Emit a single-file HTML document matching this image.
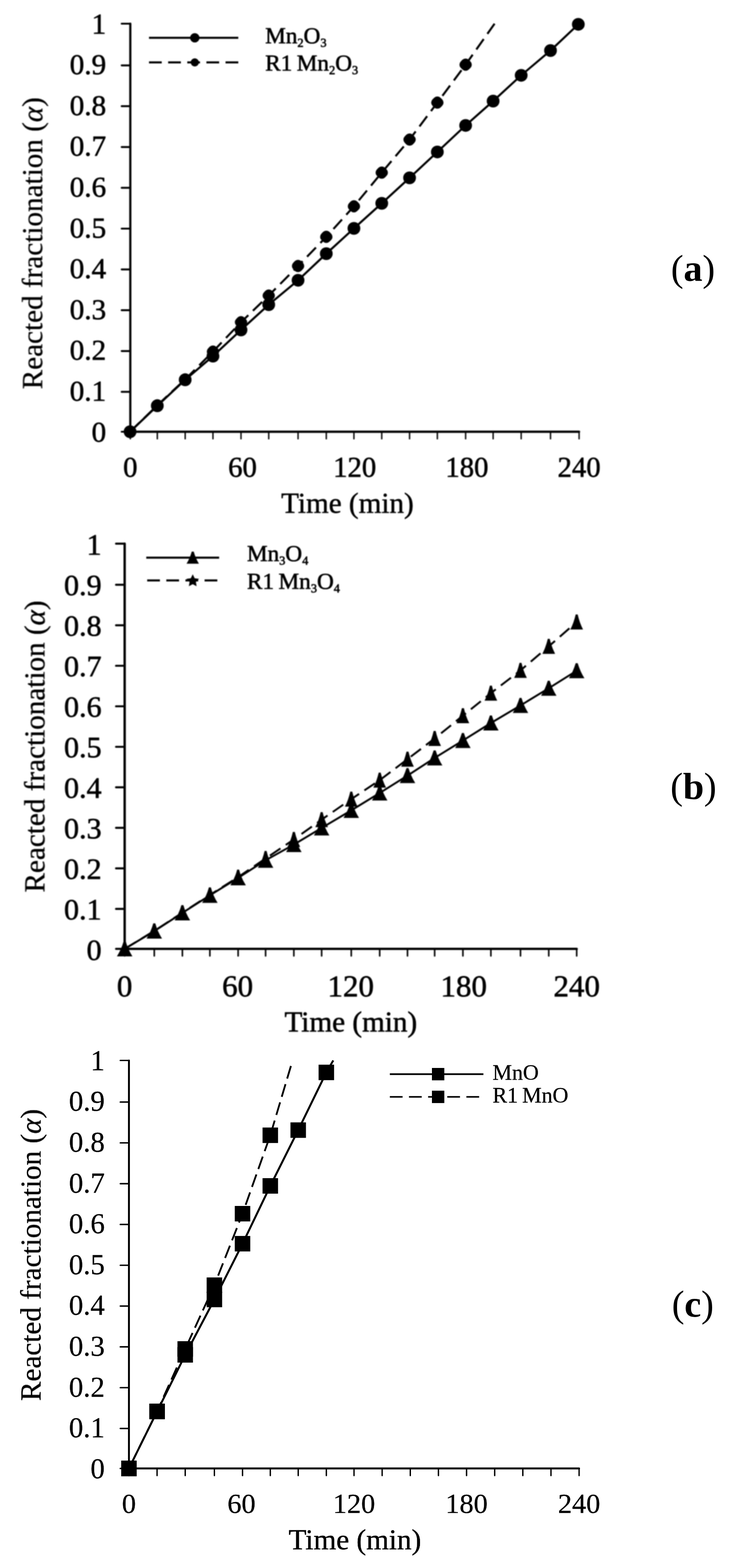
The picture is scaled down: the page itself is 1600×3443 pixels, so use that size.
<!DOCTYPE html>
<html lang="en">
<head>
<meta charset="utf-8">
<title>Reacted fractionation versus time</title>
<style>
html, body { margin: 0; padding: 0; background: #fff; }
body { width: 1600px; height: 3443px; }
figure { margin: 0; width: 1600px; height: 3443px; position: relative; background: #fff; }
svg { display: block; font-family: 'Liberation Serif', 'DejaVu Serif', serif; fill: #000; }
text { stroke: #000; stroke-width: var(--ts, 1px); stroke-linejoin: round; }
.axis, .ln { fill: none; stroke: #000; }
.axis { stroke-linecap: round; stroke-linejoin: round; }
.ln { stroke-linecap: butt; stroke-linejoin: round; }
.mk { stroke: none; fill: #000; }
</style>
</head>
<body>
<figure>
<svg width="1600" height="3443" viewBox="0 0 1600 3443" role="img" aria-label="Reacted fractionation versus time for manganese oxides">
<rect width="1600" height="3443" fill="#fff"/>
<defs>
<filter id="blur-a" filterUnits="userSpaceOnUse" x="0" y="0" width="1400" height="1166" color-interpolation-filters="sRGB"><feGaussianBlur stdDeviation="0.9"/></filter>
<filter id="blur-b" filterUnits="userSpaceOnUse" x="0" y="1133.8" width="1400" height="1170.7" color-interpolation-filters="sRGB"><feGaussianBlur stdDeviation="1"/></filter>
<filter id="blur-c" filterUnits="userSpaceOnUse" x="0" y="2268.5" width="1400" height="1173.2" color-interpolation-filters="sRGB"><feGaussianBlur stdDeviation="0.7"/></filter>
</defs>
<g class="chart" id="chart-a" style="--ts:1.1px" filter="url(#blur-a)">
<path class="axis" d="M286 52V948H1271" stroke-width="4.8"/>
<path class="axis" d="M267 948H286M267 860.4H286M267 770.8H286M267 681.2H286M267 591.6H286M267 502H286M267 412.4H286M267 322.8H286M267 233.2H286M267 143.6H286M267 52H286" stroke-width="4.2"/>
<path class="axis" d="M286 948V963.5M345.26 948V963.5M406.43 948V963.5M467.39 948V963.5M528.95 948V963.5M589.81 948V963.5M654.17 948V963.5M716.14 948V963.5M776.8 948V963.5M837.86 948V963.5M898.92 948V963.5M959.89 948V963.5M1021.95 948V963.5M1082.31 948V963.5M1143.88 948V963.5M1208.24 948V963.5M1271 948V963.5" stroke-width="3"/>
<g class="yt" font-size="64" text-anchor="end">
<text x="233" y="969.63">0</text>
<text x="233" y="880.03">0.1</text>
<text x="233" y="790.43">0.2</text>
<text x="233" y="700.83">0.3</text>
<text x="233" y="611.23">0.4</text>
<text x="233" y="521.63">0.5</text>
<text x="233" y="432.03">0.6</text>
<text x="233" y="342.43">0.7</text>
<text x="233" y="252.83">0.8</text>
<text x="233" y="163.23">0.9</text>
<text x="233" y="73.63">1</text>
</g>
<g class="xt" font-size="63" text-anchor="middle">
<text x="286" y="1047">0</text>
<text x="532.25" y="1047">60</text>
<text x="778.5" y="1047">120</text>
<text x="1024.75" y="1047">180</text>
<text x="1271" y="1047">240</text>
</g>
<text class="xtitle" style="stroke-width:0.9px" x="762.5" y="1126" font-size="64" text-anchor="middle">Time (min)</text>
<text class="ytitle" style="stroke-width:0.5px" transform="translate(92.5 534) rotate(-90) scale(1 1)" font-size="64" text-anchor="middle">Reacted fractionation (<tspan font-style="italic">α</tspan>)</text>
<polyline class="ln dash" stroke-width="4.5" stroke-dasharray="28 14" stroke-dashoffset="41.4" points="285.5,948 345.26,890 406.43,833 467.39,772 528.95,707.5 589.81,649 654.17,584 716.14,520 776.8,453 837.86,379 898.92,306.5 959.89,225.3 1021.95,142 1085.5,52"/>
<polyline class="ln" stroke-width="4.5" points="285.5,948 345.26,891 406.43,834 467.39,782 528.95,724.5 589.81,669 654.17,615.4 716.14,557 776.8,501.5 837.86,446.5 898.92,390.5 959.89,333.7 1021.95,275.4 1082.31,222 1143.88,165.4 1208.24,111 1269.3,53.4"/>
<g class="mk">
<circle cx="285.5" cy="948" r="14"/>
<circle cx="345.26" cy="891" r="14"/>
<circle cx="406.43" cy="834" r="14"/>
<circle cx="467.39" cy="782" r="14"/>
<circle cx="528.95" cy="724.5" r="14"/>
<circle cx="589.81" cy="669" r="14"/>
<circle cx="654.17" cy="615.4" r="14"/>
<circle cx="716.14" cy="557" r="14"/>
<circle cx="776.8" cy="501.5" r="14"/>
<circle cx="837.86" cy="446.5" r="14"/>
<circle cx="898.92" cy="390.5" r="14"/>
<circle cx="959.89" cy="333.7" r="14"/>
<circle cx="1021.95" cy="275.4" r="14"/>
<circle cx="1082.31" cy="222" r="14"/>
<circle cx="1143.88" cy="165.4" r="14"/>
<circle cx="1208.24" cy="111" r="14"/>
<circle cx="1269.3" cy="53.4" r="14"/>
<rect x="272.98" y="935.48" width="25.03" height="25.03" rx="10" transform="rotate(45 285.5 948)"/>
<rect x="332.75" y="877.48" width="25.03" height="25.03" rx="10" transform="rotate(45 345.26 890)"/>
<rect x="393.91" y="820.48" width="25.03" height="25.03" rx="10" transform="rotate(45 406.43 833)"/>
<rect x="454.87" y="759.48" width="25.03" height="25.03" rx="10" transform="rotate(45 467.39 772)"/>
<rect x="516.43" y="694.98" width="25.03" height="25.03" rx="10" transform="rotate(45 528.95 707.5)"/>
<rect x="577.3" y="636.48" width="25.03" height="25.03" rx="10" transform="rotate(45 589.81 649)"/>
<rect x="641.66" y="571.48" width="25.03" height="25.03" rx="10" transform="rotate(45 654.17 584)"/>
<rect x="703.62" y="507.48" width="25.03" height="25.03" rx="10" transform="rotate(45 716.14 520)"/>
<rect x="764.28" y="440.48" width="25.03" height="25.03" rx="10" transform="rotate(45 776.8 453)"/>
<rect x="825.35" y="366.48" width="25.03" height="25.03" rx="10" transform="rotate(45 837.86 379)"/>
<rect x="886.41" y="293.98" width="25.03" height="25.03" rx="10" transform="rotate(45 898.92 306.5)"/>
<rect x="947.37" y="212.78" width="25.03" height="25.03" rx="10" transform="rotate(45 959.89 225.3)"/>
<rect x="1009.43" y="129.48" width="25.03" height="25.03" rx="10" transform="rotate(45 1021.95 142)"/>
</g>
<g class="legend">
<path class="ln" stroke-width="4.5" d="M327 83H523"/>
<path class="ln" stroke-width="4.5" stroke-dasharray="28 14" d="M327 137H523"/>
<g class="mk"><circle cx="427.5" cy="83" r="10.36"/><rect x="418.49" y="127.99" width="18.02" height="18.02" rx="10" transform="rotate(45 427.5 137)"/></g>
<text x="582" y="95" font-size="51" word-spacing="-3">Mn<tspan font-size="27" dy="8">2</tspan><tspan dy="-8">O</tspan><tspan font-size="27" dy="8">3</tspan></text>
<text x="582" y="155" font-size="51" word-spacing="-3">R1 Mn<tspan font-size="27" dy="8">2</tspan><tspan dy="-8">O</tspan><tspan font-size="27" dy="8">3</tspan></text>
</g>
</g>
<text class="panel" style="stroke:none" x="1521" y="617" font-size="83" text-anchor="middle">(<tspan font-weight="bold">a</tspan>)</text>
<g class="chart" id="chart-b" style="--ts:1.1px" filter="url(#blur-b)">
<path class="axis" d="M273.6 1193.8V2083.5H1265.7" stroke-width="5.2"/>
<path class="axis" d="M254.6 2083.5H273.6M254.6 1995.73H273.6M254.6 1906.76H273.6M254.6 1817.79H273.6M254.6 1728.82H273.6M254.6 1639.85H273.6M254.6 1550.88H273.6M254.6 1461.91H273.6M254.6 1372.94H273.6M254.6 1283.97H273.6M254.6 1193.8H273.6" stroke-width="4.4"/>
<path class="axis" d="M273.6 2083.5V2099M338.61 2083.5V2099M400.31 2083.5V2099M460.62 2083.5V2099M522.62 2083.5V2099M582.93 2083.5V2099M644.94 2083.5V2099M705.94 2083.5V2099M770.95 2083.5V2099M833.36 2083.5V2099M894.36 2083.5V2099M953.97 2083.5V2099M1015.98 2083.5V2099M1077.38 2083.5V2099M1142.39 2083.5V2099M1204.39 2083.5V2099M1265.7 2083.5V2099" stroke-width="3.4"/>
<g class="yt" font-size="66" text-anchor="end">
<text x="223" y="2107.81">0</text>
<text x="223" y="2018.84">0.1</text>
<text x="223" y="1929.87">0.2</text>
<text x="223" y="1840.9">0.3</text>
<text x="223" y="1751.93">0.4</text>
<text x="223" y="1662.96">0.5</text>
<text x="223" y="1573.99">0.6</text>
<text x="223" y="1485.02">0.7</text>
<text x="223" y="1396.05">0.8</text>
<text x="223" y="1307.08">0.9</text>
<text x="223" y="1218.11">1</text>
</g>
<g class="xt" font-size="68" text-anchor="middle">
<text x="273.6" y="2188">0</text>
<text x="521.62" y="2188">60</text>
<text x="769.65" y="2188">120</text>
<text x="1017.68" y="2188">180</text>
<text x="1265.7" y="2188">240</text>
</g>
<text class="xtitle" style="stroke-width:1.1px" x="770" y="2264.5" font-size="64" text-anchor="middle">Time (min)</text>
<text class="ytitle" style="stroke-width:0.7px" transform="translate(97.5 1639) rotate(-90) scale(1 1)" font-size="64" text-anchor="middle">Reacted fractionation (<tspan font-style="italic">α</tspan>)</text>
<polyline class="ln dash" stroke-width="4.2" stroke-dasharray="28 14" stroke-dashoffset="41.03" points="273.6,2083.5 338.61,2044 400.31,2004 460.62,1965 522.62,1926 582.93,1885 644.94,1843.3 705.94,1799.8 770.95,1754.7 833.36,1713.1 894.36,1667 953.97,1621.5 1015.98,1571.5 1077.38,1522 1142.39,1472 1204.39,1419.3 1265.7,1365.8"/>
<polyline class="ln" stroke-width="4.2" points="273.6,2083.5 338.61,2044.6 400.31,2004.5 460.62,1966 522.62,1927.6 582.93,1889 644.94,1854.5 705.94,1818 770.95,1779.4 833.36,1741.2 894.36,1703 953.97,1664.3 1015.98,1626 1077.38,1587.6 1142.39,1549 1204.39,1511.2 1265.7,1472.8"/>
<g class="mk">
<path d="M271.4 2067H275.8Q281.42 2085.48 290.6 2100H256.6Q265.78 2085.48 271.4 2067Z"/>
<path d="M336.41 2028.1H340.81Q346.43 2046.58 355.61 2061.1H321.61Q330.79 2046.58 336.41 2028.1Z"/>
<path d="M398.11 1988H402.51Q408.13 2006.48 417.31 2021H383.31Q392.49 2006.48 398.11 1988Z"/>
<path d="M458.42 1949.5H462.82Q468.44 1967.98 477.62 1982.5H443.62Q452.8 1967.98 458.42 1949.5Z"/>
<path d="M520.42 1911.1H524.83Q530.45 1929.58 539.62 1944.1H505.62Q514.8 1929.58 520.42 1911.1Z"/>
<path d="M580.73 1872.5H585.13Q590.75 1890.98 599.93 1905.5H565.93Q575.11 1890.98 580.73 1872.5Z"/>
<path d="M642.74 1838H647.14Q652.76 1856.48 661.94 1871H627.94Q637.12 1856.48 642.74 1838Z"/>
<path d="M703.74 1801.5H708.14Q713.76 1819.98 722.94 1834.5H688.94Q698.12 1819.98 703.74 1801.5Z"/>
<path d="M768.75 1762.9H773.15Q778.77 1781.38 787.95 1795.9H753.95Q763.13 1781.38 768.75 1762.9Z"/>
<path d="M831.16 1724.7H835.56Q841.18 1743.18 850.36 1757.7H816.36Q825.54 1743.18 831.16 1724.7Z"/>
<path d="M892.16 1686.5H896.56Q902.18 1704.98 911.36 1719.5H877.36Q886.54 1704.98 892.16 1686.5Z"/>
<path d="M951.77 1647.8H956.17Q961.79 1666.28 970.97 1680.8H936.97Q946.15 1666.28 951.77 1647.8Z"/>
<path d="M1013.77 1609.5H1018.18Q1023.8 1627.98 1032.97 1642.5H998.98Q1008.15 1627.98 1013.77 1609.5Z"/>
<path d="M1075.18 1571.1H1079.58Q1085.2 1589.58 1094.38 1604.1H1060.38Q1069.56 1589.58 1075.18 1571.1Z"/>
<path d="M1140.19 1532.5H1144.59Q1150.21 1550.98 1159.39 1565.5H1125.39Q1134.57 1550.98 1140.19 1532.5Z"/>
<path d="M1202.19 1494.7H1206.59Q1212.21 1513.18 1221.39 1527.7H1187.39Q1196.57 1513.18 1202.19 1494.7Z"/>
<path d="M1263.5 1456.3H1267.9Q1273.52 1474.78 1282.7 1489.3H1248.7Q1257.88 1474.78 1263.5 1456.3Z"/>
<path d="M271.4 2067H275.8Q280.01 2085.48 287.54 2100H259.66Q267.19 2085.48 271.4 2067Z"/>
<path d="M336.41 2027.5H340.81Q345.02 2045.98 352.55 2060.5H324.67Q332.19 2045.98 336.41 2027.5Z"/>
<path d="M398.11 1987.5H402.51Q406.72 2005.98 414.25 2020.5H386.37Q393.9 2005.98 398.11 1987.5Z"/>
<path d="M458.42 1948.5H462.82Q467.03 1966.98 474.56 1981.5H446.68Q454.21 1966.98 458.42 1948.5Z"/>
<path d="M520.42 1909.5H524.83Q529.04 1927.98 536.57 1942.5H508.69Q516.21 1927.98 520.42 1909.5Z"/>
<path d="M580.73 1868.5H585.13Q589.34 1886.98 596.87 1901.5H568.99Q576.52 1886.98 580.73 1868.5Z"/>
<path d="M642.74 1826.8H647.14Q651.35 1845.28 658.88 1859.8H631Q638.53 1845.28 642.74 1826.8Z"/>
<path d="M703.74 1783.3H708.14Q712.36 1801.78 719.88 1816.3H692Q699.53 1801.78 703.74 1783.3Z"/>
<path d="M768.75 1738.2H773.15Q777.36 1756.68 784.89 1771.2H757.01Q764.54 1756.68 768.75 1738.2Z"/>
<path d="M831.16 1696.6H835.56Q839.77 1715.08 847.3 1729.6H819.42Q826.94 1715.08 831.16 1696.6Z"/>
<path d="M892.16 1650.5H896.56Q900.77 1668.98 908.3 1683.5H880.42Q887.95 1668.98 892.16 1650.5Z"/>
<path d="M951.77 1605H956.17Q960.38 1623.48 967.91 1638H940.03Q947.56 1623.48 951.77 1605Z"/>
<path d="M1013.77 1555H1018.18Q1022.39 1573.48 1029.91 1588H1002.03Q1009.56 1573.48 1013.77 1555Z"/>
<path d="M1075.18 1505.5H1079.58Q1083.79 1523.98 1091.32 1538.5H1063.44Q1070.97 1523.98 1075.18 1505.5Z"/>
<path d="M1140.19 1455.5H1144.59Q1148.8 1473.98 1156.33 1488.5H1128.45Q1135.98 1473.98 1140.19 1455.5Z"/>
<path d="M1202.19 1402.8H1206.59Q1210.81 1421.28 1218.33 1435.8H1190.45Q1197.98 1421.28 1202.19 1402.8Z"/>
<path d="M1263.5 1349.3H1267.9Q1272.11 1367.78 1279.64 1382.3H1251.76Q1259.29 1367.78 1263.5 1349.3Z"/>
</g>
<g class="legend">
<path class="ln" stroke-width="4.5" d="M321 1224.5H481"/>
<path class="ln" stroke-width="4.5" stroke-dasharray="28 14" d="M323 1274.5H481"/>
<g class="mk"><path d="M420.8 1211.3H425.2Q429.26 1226.08 436.6 1237.7H409.4Q416.74 1226.08 420.8 1211.3Z"/><path d="M423 1261L427.26 1269.63L436.79 1271.02L429.9 1277.74L431.52 1287.23L423 1282.75L414.48 1287.23L416.1 1277.74L409.21 1271.02L418.74 1269.63Z"/></g>
<text x="542" y="1232" font-size="51" word-spacing="-3">Mn<tspan font-size="27" dy="8">3</tspan><tspan dy="-8">O</tspan><tspan font-size="27" dy="8">4</tspan></text>
<text x="542" y="1292.5" font-size="51" word-spacing="-3">R1 Mn<tspan font-size="27" dy="8">3</tspan><tspan dy="-8">O</tspan><tspan font-size="27" dy="8">4</tspan></text>
</g>
</g>
<text class="panel" style="stroke:none" x="1522" y="1753.5" font-size="83" text-anchor="middle">(<tspan font-weight="bold">b</tspan>)</text>
<g class="chart" id="chart-c" style="--ts:0.4px" filter="url(#blur-c)">
<path class="axis" d="M283 2328.5V3224.4H1271" stroke-width="4.2"/>
<path class="axis" d="M264 3224.4H283M264 3136.61H283M264 3047.02H283M264 2957.43H283M264 2867.84H283M264 2778.25H283M264 2688.66H283M264 2599.07H283M264 2509.48H283M264 2419.89H283M264 2328.5H283" stroke-width="3.2"/>
<path class="axis" d="M283 3224.4V3239.9M344.75 3224.4V3239.9M406.5 3224.4V3239.9M470.55 3224.4V3239.9M532.3 3224.4V3239.9M593.25 3224.4V3239.9M654.5 3224.4V3239.9M716.25 3224.4V3239.9M777 3224.4V3239.9M838.75 3224.4V3239.9M900.5 3224.4V3239.9M962.25 3224.4V3239.9M1024 3224.4V3239.9M1085.75 3224.4V3239.9M1147.5 3224.4V3239.9M1209.25 3224.4V3239.9M1271 3224.4V3239.9" stroke-width="3"/>
<g class="yt" font-size="63" text-anchor="end">
<text x="230" y="3245.69">0</text>
<text x="230" y="3156.1">0.1</text>
<text x="230" y="3066.51">0.2</text>
<text x="230" y="2976.92">0.3</text>
<text x="230" y="2887.33">0.4</text>
<text x="230" y="2797.74">0.5</text>
<text x="230" y="2708.15">0.6</text>
<text x="230" y="2618.56">0.7</text>
<text x="230" y="2528.97">0.8</text>
<text x="230" y="2439.38">0.9</text>
<text x="230" y="2349.79">1</text>
</g>
<g class="xt" font-size="62" text-anchor="middle">
<text x="283" y="3322">0</text>
<text x="530" y="3322">60</text>
<text x="777" y="3322">120</text>
<text x="1024" y="3322">180</text>
<text x="1271" y="3322">240</text>
</g>
<text class="xtitle" style="stroke-width:0.6px" x="779" y="3401.7" font-size="64" text-anchor="middle">Time (min)</text>
<text class="ytitle" style="stroke-width:0.4px" transform="translate(89 2755.5) rotate(-90) scale(1 1)" font-size="64" text-anchor="middle">Reacted fractionation (<tspan font-style="italic">α</tspan>)</text>
<polyline class="ln dash" stroke-width="4" stroke-dasharray="29 12.7" stroke-dashoffset="33.89" points="283,3224.4 344.75,3099 406.5,2962 470.55,2822 532.3,2665 593.25,2492.8 642.1,2328.5"/>
<polyline class="ln" stroke-width="4.4" points="283,3224.4 344.75,3099.4 406.5,2975 470.55,2853.4 532.3,2730.9 593.25,2604 654.5,2481.5 716.25,2354.8 731.4,2328.5"/>
<g class="mk">
<rect x="266" y="3207.4" width="34" height="34"/>
<rect x="327.75" y="3082.4" width="34" height="34"/>
<rect x="389.5" y="2958" width="34" height="34"/>
<rect x="453.55" y="2836.4" width="34" height="34"/>
<rect x="515.3" y="2713.9" width="34" height="34"/>
<rect x="576.25" y="2587" width="34" height="34"/>
<rect x="637.5" y="2464.5" width="34" height="34"/>
<rect x="699.25" y="2337.8" width="34" height="34"/>
<rect x="266" y="3207.4" width="34" height="34"/>
<rect x="327.75" y="3082" width="34" height="34"/>
<rect x="389.5" y="2945" width="34" height="34"/>
<rect x="453.55" y="2805" width="34" height="34"/>
<rect x="515.3" y="2648" width="34" height="34"/>
<rect x="576.25" y="2475.8" width="34" height="34"/>
</g>
<g class="legend">
<path class="ln" stroke-width="3.6" d="M855.6 2358.6H1061"/>
<path class="ln" stroke-width="3.6" stroke-dasharray="28 14" d="M855.6 2408.5H1061"/>
<g class="mk"><rect x="948" y="2345" width="27.2" height="27.2"/><rect x="948" y="2394.9" width="27.2" height="27.2"/></g>
<text x="1081" y="2371" font-size="48" word-spacing="-3">MnO</text>
<text x="1081" y="2420.8" font-size="48" word-spacing="-3">R1 MnO</text>
</g>
</g>
<text class="panel" style="stroke:none" x="1520.5" y="2891" font-size="83" text-anchor="middle">(<tspan font-weight="bold">c</tspan>)</text>
</svg>
</figure>
</body>
</html>
